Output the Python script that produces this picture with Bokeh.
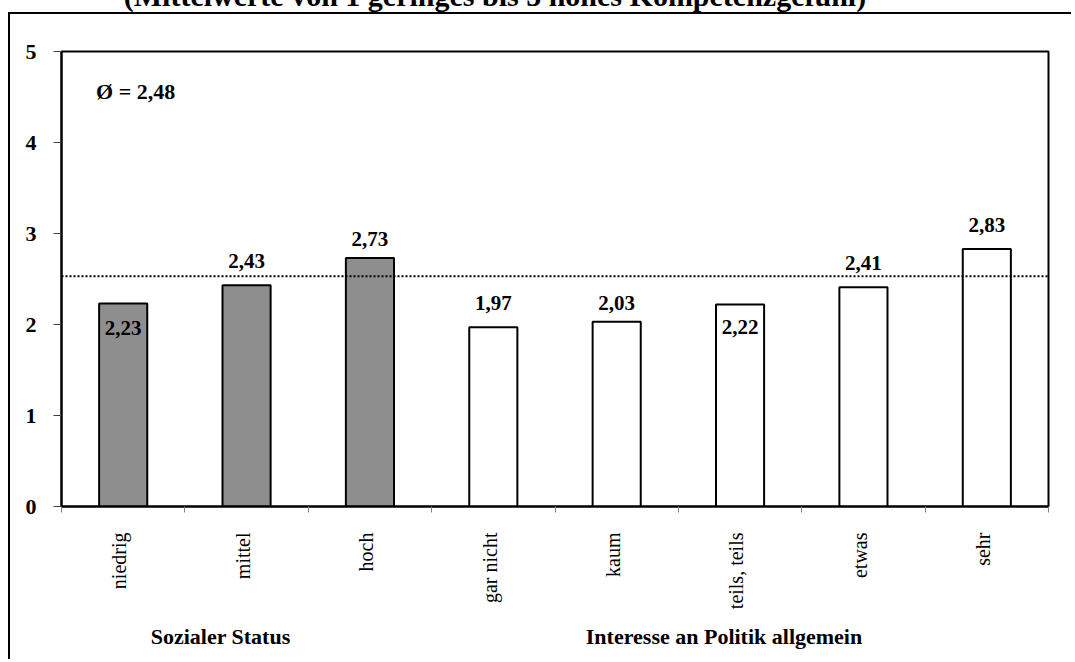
from math import pi
from bokeh.plotting import figure
from bokeh.layouts import column
from bokeh.models import (Range1d, LinearAxis, FixedTicker, Span, Label, Div, ColumnDataSource)
from bokeh.core.properties import value
from bokeh.embed import file_html
from bokeh.resources import INLINE

# ---------------- data ----------------
categories = ["niedrig", "mittel", "hoch", "gar nicht", "kaum", "teils, teils", "etwas", "sehr"]
values = [2.23, 2.43, 2.73, 1.97, 2.03, 2.22, 2.41, 2.83]
groups = ["Sozialer Status"] * 3 + ["Interesse an Politik allgemein"] * 5
group_names = ["Sozialer Status", "Interesse an Politik allgemein"]
mean_value = 2.48
mean_line_level = 2.53
y_ticks = [0, 1, 2, 3, 4, 5]
title_text = "(Mittelwerte von 1 geringes bis 5 hohes Kompetenzgefühl)"

# ---------------- styling ----------------
FONT = "Liberation Serif"
group_fill = {"Sozialer Status": "#8e8e8e", "Interesse an Politik allgemein": "#ffffff"}
label_dy = [24, -24, -19, -24, -19, 23, -24, -24]   # pixel offsets of value labels
group_label_pos = [1.29, 5.37]                      # x positions of group captions
cat_label_shift = -0.03                             # optical centring of rotated names

n = len(categories)
slot_centers = [i + 0.5 for i in range(n)]          # category slots on the x scale
slot_edges = list(range(n + 1))
name_ticks = [c + cat_label_shift for c in slot_centers]

src = ColumnDataSource(dict(
    x=slot_centers,
    val=values,
    fill=[group_fill[g] for g in groups],
    txt=[f"{v:.2f}".replace(".", ",") for v in values],
    dy=label_dy,
))

p = figure(x_range=Range1d(0, n), y_range=Range1d(0, 5),
           width=1063, height=647, output_backend="svg", toolbar_location=None,
           x_axis_location=None,
           min_border_left=51, min_border_right=25, min_border_top=37, min_border_bottom=155)
p.styles = {"margin-left": "8px", "margin-top": "-2px",
            "border-left": "2px solid black", "border-top": "2px solid black"}
p.background_fill_color = "white"
p.border_fill_color = "white"
p.outline_line_color = "black"
p.outline_line_width = 2
p.outline_line_alpha = 1
p.grid.grid_line_color = None

# y axis
p.yaxis.ticker = FixedTicker(ticks=y_ticks)
p.yaxis.major_tick_out = 8
p.yaxis.major_tick_in = 0
p.yaxis.minor_tick_out = 0
p.yaxis.minor_tick_in = 0
p.yaxis.major_tick_line_color = "#404040"
p.yaxis.axis_line_color = "black"
p.yaxis.axis_line_width = 2
p.yaxis.major_label_standoff = 17
p.yaxis.major_label_text_font = FONT
p.yaxis.major_label_text_font_size = "22px"
p.yaxis.major_label_text_font_style = "bold"
p.yaxis.major_label_text_color = "black"

# x tick marks at category boundaries
tick_axis = LinearAxis(ticker=FixedTicker(ticks=slot_edges),
                       major_label_overrides={i: "" for i in slot_edges},
                       major_label_standoff=0, major_tick_out=6, major_tick_in=0,
                       minor_tick_out=0, minor_tick_in=0,
                       axis_line_color="black", axis_line_width=2,
                       major_tick_line_color="#7f7f7f", major_label_text_font_size="1px")
p.add_layout(tick_axis, "below")

# category names
cat_axis = LinearAxis(ticker=FixedTicker(ticks=name_ticks),
                      major_label_overrides=dict(zip(name_ticks, categories)),
                      major_tick_out=0, major_tick_in=0, minor_tick_out=0, minor_tick_in=0,
                      axis_line_color=None,
                      major_label_orientation=pi / 2, major_label_standoff=20,
                      major_label_text_font=FONT, major_label_text_font_size="20px",
                      major_label_text_color="black")
p.add_layout(cat_axis, "below")

# group captions
group_axis = LinearAxis(ticker=FixedTicker(ticks=group_label_pos),
                        major_label_overrides=dict(zip(group_label_pos, group_names)),
                        major_tick_out=0, major_tick_in=0, minor_tick_out=0, minor_tick_in=0,
                        axis_line_color=None, major_label_standoff=11,
                        major_label_text_font=FONT, major_label_text_font_size="22px",
                        major_label_text_font_style="bold", major_label_text_color="black")
p.add_layout(group_axis, "below")

# bars
p.vbar(x="x", top="val", bottom=0, width=0.39, source=src,
       fill_color="fill", line_color="black", line_width=2)

# value labels
p.text(x="x", y="val", text="txt", y_offset="dy", source=src,
       text_align="center", text_baseline="alphabetic",
       text_font=value(FONT), text_font_style="bold", text_font_size="21px",
       text_color="black")

# mean line
p.add_layout(Span(location=mean_line_level, dimension="width", line_color="black",
                  line_width=2, line_dash="2 2"))

p.add_layout(Label(x=0.28, y=4.56, text=f"Ø = {mean_value:.2f}".replace(".", ","),
                   text_font=FONT, text_font_style="bold", text_font_size="22px",
                   text_color="black", text_baseline="alphabetic"))

# title above the frame (cropped at the top as in the reference)
title_div = Div(text=title_text, width=980, height=28,
                styles={"margin-top": "-19px", "font-family": FONT, "font-weight": "bold",
                        "font-size": "30px", "line-height": "30px", "text-align": "center",
                        "white-space": "nowrap", "color": "black"})

layout = column(title_div, p, spacing=0)

open("out.html", "w").write(file_html(layout, INLINE))
